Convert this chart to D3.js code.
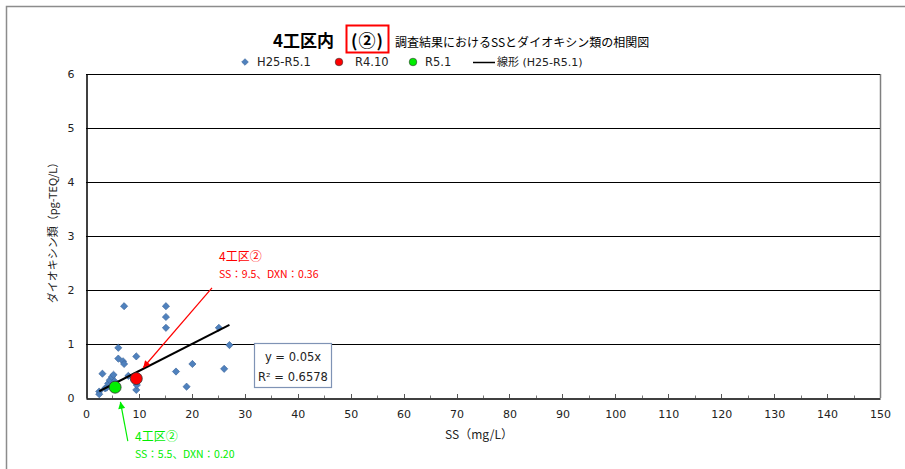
<!DOCTYPE html>
<html><head><meta charset="utf-8">
<script src="https://cdn.jsdelivr.net/npm/d3@7"></script>
<style>
html,body{margin:0;padding:0;background:#fff;}
text{font-family:"DejaVu Sans","Noto Sans CJK JP",sans-serif;}
.jp{font-family:"Noto Sans CJK JP","DejaVu Sans",sans-serif;}
</style></head>
<body><svg id="chart" width="905" height="469"></svg>
<script>
// ---- data ----
const seriesName = "H25-R5.1";
const ssValues  = [2.5, 2.5, 3.1, 3.6, 3.9, 4.2, 4.5, 4.9, 5.2, 5.4, 5.5, 6.1, 6.1, 7.0, 7.2, 7.2, 8.0, 9.5, 9.5, 9.5, 9.6, 15.1, 15.1, 15.1, 17.0, 19.0, 20.1, 25.1, 26.1, 27.1];
const dxnValues = [0.12, 0.07, 0.45, 0.18, 0.19, 0.27, 0.33, 0.39, 0.43, 0.31, 0.20, 0.93, 0.73, 0.68, 0.63, 1.70, 0.41, 0.77, 0.36, 0.15, 0.24, 1.70, 1.50, 1.30, 0.49, 0.21, 0.63, 1.30, 0.54, 0.98];
const r410 = {name: "R4.10", ss: 9.5, dxn: 0.36};
const r51  = {name: "R5.1",  ss: 5.5, dxn: 0.20};
const slope = 0.05;
const r2 = 0.6578;
const xTicks = [0,10,20,30,40,50,60,70,80,90,100,110,120,130,140,150];
const yTicks = [0,1,2,3,4,5,6];
const titleMain = "4工区内";
const titleMark = "(②)";
const titleSub = "調査結果におけるSSとダイオキシン類の相関図";
const xTitle = "SS（mg/L）";
const yTitle = "ダイオキシン類（pg-TEQ/L）";
const trendName = "線形 (H25-R5.1)";
const annoLabel = "4工区②";

// ---- layout ----
const svg = d3.select("#chart");
const L = 86, R = 880, T = 74, B = 398;
const x = d3.scaleLinear().domain([0,150]).range([L,R]);
const y = d3.scaleLinear().domain([0,6]).range([B,T]);

// outer frame
svg.append("rect").attr("x",6.5).attr("y",6.5).attr("width",910).attr("height",480)
  .attr("fill","none").attr("stroke","#8c8c8c").attr("stroke-width",1.5);

// plot border (right, grey)
svg.append("line").attr("x1",R+0.5).attr("x2",R+0.5).attr("y1",T).attr("y2",B)
  .attr("stroke","#7f7f7f").attr("stroke-width",1.5);

// gridlines
svg.append("g").selectAll("line").data(yTicks.filter(d=>d>0)).join("line")
  .attr("x1",L).attr("x2",R).attr("y1",d=>Math.round(y(d))+0.5).attr("y2",d=>Math.round(y(d))+0.5)
  .attr("stroke","#000").attr("stroke-width",1.2);

// y axis
const yAxis = d3.axisLeft(y).tickValues(yTicks).tickSize(0).tickPadding(12).tickFormat(d3.format("d"));
const gy = svg.append("g").attr("transform",`translate(${L+0.5},0)`).call(yAxis);
gy.select(".domain").attr("stroke","#000").attr("stroke-width",1.5);
gy.selectAll("text").attr("font-size","11px").attr("fill","#222");

// x axis with inward ticks
const xAxis = d3.axisBottom(x).tickValues(xTicks).tickSize(0).tickPadding(12).tickFormat(d3.format("d"));
const gx = svg.append("g").attr("transform",`translate(0,${B+0.5})`).call(xAxis);
gx.select(".domain").attr("stroke","#000").attr("stroke-width",1.5);
gx.selectAll("text").attr("font-size","11px").attr("fill","#222");
const minorTicks = d3.range(5,150,10);
svg.append("g").selectAll("line").data(xTicks.filter(d=>d>0&&d<150)).join("line")
  .attr("x1",d=>Math.round(x(d))+0.5).attr("x2",d=>Math.round(x(d))+0.5).attr("y1",B).attr("y2",B-4)
  .attr("stroke","#555");
svg.append("g").selectAll("line").data(minorTicks).join("line")
  .attr("x1",d=>Math.round(x(d))+0.5).attr("x2",d=>Math.round(x(d))+0.5).attr("y1",B).attr("y2",B-2.5)
  .attr("stroke","#777");

// axis titles
svg.append("text").attr("class","jp").attr("x",x(75)-4).attr("y",439).attr("text-anchor","middle")
  .attr("font-size","12px").attr("fill","#222").text(xTitle);
svg.append("text").attr("class","jp").attr("transform",`translate(57,${(T+B)/2-6}) rotate(-90)`)
  .attr("text-anchor","middle").attr("font-size","11px").attr("fill","#222").text(yTitle);

// series points
const pts = ssValues.map((v,i)=>({ss:v, dxn:dxnValues[i]}));
const diamond = d3.symbol().type(d3.symbolSquare).size(26);
svg.append("g").selectAll("path").data(pts).join("path")
  .attr("d",diamond)
  .attr("transform",d=>`translate(${x(d.ss)},${y(d.dxn)}) rotate(45)`)
  .attr("fill","#4f81bd").attr("stroke","#3a649a").attr("stroke-width",0.6);

// trend line
const xmin = d3.min(ssValues), xmax = d3.max(ssValues);
svg.append("line").attr("x1",x(xmin)).attr("y1",y(slope*xmin)).attr("x2",x(xmax)).attr("y2",y(slope*xmax))
  .attr("stroke","#000").attr("stroke-width",2);

// highlighted points
svg.append("circle").attr("cx",x(r410.ss)).attr("cy",y(r410.dxn)).attr("r",6)
  .attr("fill","#ff0000").attr("stroke","#333").attr("stroke-width",0.8);
svg.append("circle").attr("cx",x(r51.ss)).attr("cy",y(r51.dxn)).attr("r",6)
  .attr("fill","#00ee00").attr("stroke","#333").attr("stroke-width",0.8);

// equation box
svg.append("rect").attr("x",254.5).attr("y",343.5).attr("width",77).attr("height",44)
  .attr("fill","#fff").attr("stroke","#7f93b5").attr("stroke-width",1.2);
svg.append("text").attr("x",293).attr("y",361).attr("text-anchor","middle").attr("font-size","11.5px")
  .attr("fill","#222").text(`y = ${slope}x`);
svg.append("text").attr("x",293).attr("y",381).attr("text-anchor","middle").attr("font-size","11.5px")
  .attr("fill","#222").text(`R² = ${r2}`);

// arrow markers
const defs = svg.append("defs");
[["arRed","#ff0000"],["arGreen","#00ee00"]].forEach(([id,c])=>{
  defs.append("marker").attr("id",id).attr("viewBox","0 0 10 10").attr("refX",10).attr("refY",5)
    .attr("markerWidth",9).attr("markerHeight",7).attr("markerUnits","userSpaceOnUse").attr("orient","auto")
    .append("path").attr("d","M0,0L10,5L0,10Z").attr("fill",c);
});
// red annotation
svg.append("line").attr("x1",x(23.8)).attr("y1",y(2.04)).attr("x2",x(10.8)).attr("y2",y(0.56))
  .attr("stroke","#ff0000").attr("stroke-width",1.2).attr("marker-end","url(#arRed)");
svg.append("text").attr("class","jp").attr("x",219).attr("y",261).attr("font-size","12px").attr("fill","#ff0000").text(annoLabel);
svg.append("text").attr("class","jp").attr("x",219).attr("y",278).attr("font-size","10.5px").attr("fill","#ff0000")
  .text(`SS：${r410.ss}、DXN：${r410.dxn.toFixed(2)}`);
// green annotation
svg.append("line").attr("x1",x(7.9)).attr("y1",y(-0.8)).attr("x2",x(6.5)).attr("y2",y(-0.07))
  .attr("stroke","#00ee00").attr("stroke-width",1.2).attr("marker-end","url(#arGreen)");
svg.append("text").attr("class","jp").attr("x",135).attr("y",441).attr("font-size","12px").attr("fill","#00ee00").text(annoLabel);
svg.append("text").attr("class","jp").attr("x",135).attr("y",458).attr("font-size","10.5px").attr("fill","#00ee00")
  .text(`SS：${r51.ss}、DXN：${r51.dxn.toFixed(2)}`);

// title
svg.append("text").attr("class","jp").attr("x",273).attr("y",47).attr("font-size","17px").attr("font-weight","bold")
  .attr("fill","#000").text(titleMain);
svg.append("rect").attr("x",346.5).attr("y",25.5).attr("width",42).attr("height",27)
  .attr("fill","none").attr("stroke","#ff0000").attr("stroke-width",2);
svg.append("text").attr("class","jp").attr("x",367.5).attr("y",47).attr("text-anchor","middle").attr("font-size","17px")
  .attr("font-weight","bold").attr("letter-spacing","1px").attr("fill","#000").text(titleMark);
svg.append("text").attr("class","jp").attr("x",395).attr("y",47).attr("font-size","12px").attr("fill","#000").text(titleSub);

// legend
const ly = 62;
svg.append("path").attr("d",d3.symbol().type(d3.symbolSquare).size(22))
  .attr("transform",`translate(245,${ly}) rotate(45)`).attr("fill","#4f81bd").attr("stroke","#3a649a").attr("stroke-width",0.6);
svg.append("text").attr("x",257).attr("y",ly+4).attr("font-size","11.5px").attr("fill","#222").text(seriesName);
svg.append("circle").attr("cx",339).attr("cy",ly).attr("r",3.8).attr("fill","#ff0000").attr("stroke","#333").attr("stroke-width",0.6);
svg.append("text").attr("x",355).attr("y",ly+4).attr("font-size","11.5px").attr("fill","#222").text(r410.name);
svg.append("circle").attr("cx",413).attr("cy",ly).attr("r",3.8).attr("fill","#00ee00").attr("stroke","#333").attr("stroke-width",0.6);
svg.append("text").attr("x",425).attr("y",ly+4).attr("font-size","11.5px").attr("fill","#222").text(r51.name);
svg.append("line").attr("x1",473).attr("x2",495).attr("y1",ly+0.5).attr("y2",ly+0.5).attr("stroke","#000").attr("stroke-width",1.5);
svg.append("text").attr("x",497).attr("y",ly+4).attr("font-size","11px").attr("fill","#222").text(trendName);
</script></body></html>
